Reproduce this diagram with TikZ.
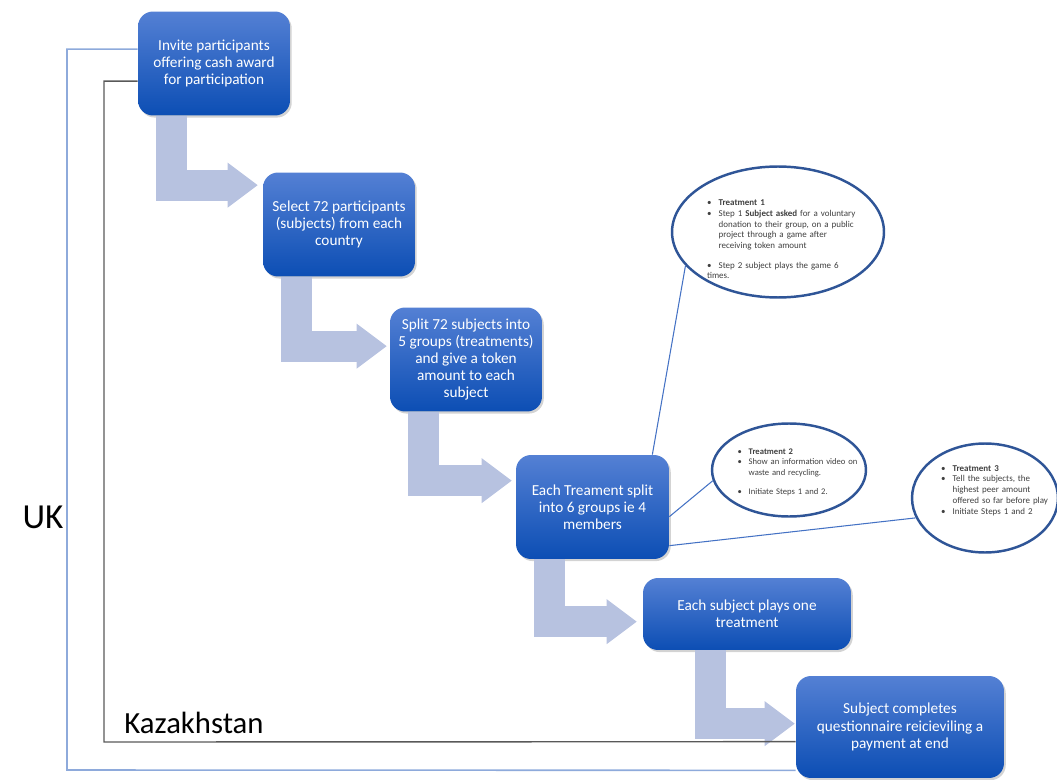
\documentclass[tikz,border=0pt]{standalone}
\usepackage{fontspec}
\setmainfont{Carlito}
\usepackage{xcolor}
\usepackage{tikz}
\usetikzlibrary{shapes.geometric, arrows.meta, positioning, calc, shadows}

\definecolor{boxtop}{RGB}{84,128,212}
\definecolor{boxbottom}{RGB}{12,78,180}
\definecolor{bentgrey}{RGB}{183,194,224}
\definecolor{ukblue}{RGB}{142,170,219}
\definecolor{kzgrey}{RGB}{89,89,89}
\definecolor{bubbleblue}{RGB}{47,85,151}
\definecolor{linkblue}{RGB}{68,114,196}

\newcommand{\bubitem}[1]{\par\hangindent=1.3em\hangafter=1\noindent\makebox[1.3em][l]{\textbullet}#1}

\begin{document}
\begin{tikzpicture}[x=0.02cm, y=-0.02cm,
    stagebox/.style={rectangle, rounded corners=0.3cm, top color=boxtop, bottom color=boxbottom, text=white, align=center, font=\fontsize{8.7}{9.8}\selectfont, minimum width=3.04cm, minimum height=2.08cm, drop shadow={shadow xshift=1pt, shadow yshift=-1.2pt, opacity=0.35}},
    bentarrow/.style={draw=bentgrey, line width=0.62cm, -{Triangle[width=0.9cm, length=0.6cm, line width=0pt]}},
    bubble/.style={ellipse, draw=bubbleblue, line width=1.4pt, fill=white, inner sep=0pt},
    bubbletext/.style={text=black!75, align=left, font=\fontsize{5.1}{6.1}\selectfont, inner sep=0pt},
    link/.style={draw=linkblue, line width=0.6pt}]
    \useasboundingbox (0,0) rectangle (1057,780);

    % Steps down the staircase
    \node[stagebox] (Invite) at (214,63.5) {Invite participants\\offering cash award\\for participation};
    \node[stagebox] (Select) at (339,224.5) {Select 72 participants\\(subjects) from each\\country};
    \node[stagebox] (Split) at (466,359.5) {Split 72 subjects into\\5 groups (treatments)\\and give a token\\amount to each\\subject};
    \node[stagebox, minimum width=3.06cm] (Members) at (592.5,507) {Each Treament split\\into 6 groups ie 4\\members};
    \node[stagebox, minimum width=4.16cm, minimum height=1.44cm] (Plays) at (747,614) {Each subject plays one\\treatment};
    \node[stagebox, minimum width=4.16cm, minimum height=2.04cm] (Complete) at (900,727) {Subject completes\\questionnaire reicieviling a\\payment at end};

    \draw[bentarrow] ($(Invite.south west)+(34,0)$) |- ($(Select.north west)+(-5,13)$);
    \draw[bentarrow] ($(Select.south west)+(34,0)$) |- ($(Split.north west)+(-3,39)$);
    \draw[bentarrow] ($(Split.south west)+(34,0)$) |- ($(Members.north west)+(-4,26)$);
    \draw[bentarrow] ($(Members.south west)+(34,0)$) |- ($(Plays.north west)+(-6,44)$);
    \draw[bentarrow] ($(Plays.south west)+(68,0)$) |- ($(Complete.north west)+(-1,48)$);

    % Country brackets
    \coordinate (UKCorner) at (67,770);
    \coordinate (KzCorner) at (104,742);
    \draw[ukblue, line width=0.9pt] ($(Invite.north west)+(0,38)$) -| (UKCorner) -- ($(Complete.south west)+(0,-8)$);
    \draw[kzgrey, line width=0.8pt] ($(Invite.north west)+(0,70)$) -| (KzCorner) -- ($(Complete.north west)+(0,66)$);
    \node[font=\fontsize{20}{24}\selectfont] (UKLabel) at (43,517) {UK};
    \node[font=\fontsize{17.5}{21}\selectfont] (KzLabel) at (194,723) {Kazakhstan};

    % Treatment bubbles
    \node[bubble, minimum width=4.24cm, minimum height=2.62cm] (TreatOne) at (778,232) {};
    \node[bubbletext, text width=3.3cm] (TreatOneText) at ([xshift=0.23cm, yshift=-0.1cm]TreatOne.center) {\bubitem{\textbf{Treatment 1}}\bubitem{Step 1 \textbf{Subject asked} for a voluntary\newline donation to their group, on a public\newline project through a game after\newline receiving token amount}\par\vspace{5pt}\bubitem{Step 2 subject plays the game 6\newline times.}};
    \node[bubble, minimum width=3.08cm, minimum height=1.86cm] (TreatTwo) at (789,470) {};
    \node[bubbletext, text width=2.7cm, font=\fontsize{4.9}{6}\selectfont] (TreatTwoText) at ([xshift=0.32cm]TreatTwo.center) {\bubitem{\textbf{Treatment 2}}\bubitem{Show an information video on\newline waste and recycling.}\par\vspace{5pt}\bubitem{Initiate Steps 1 and 2.}};
    \node[bubble, minimum width=2.92cm, minimum height=2.18cm] (TreatThree) at (985,498) {};
    \node[bubbletext, text width=2.3cm] (TreatThreeText) at ([xshift=0.27cm, yshift=0.2cm]TreatThree.center) {\bubitem{\textbf{Treatment 3}}\bubitem{Tell the subjects, the\newline highest peer amount\newline offered so far before play}\bubitem{Initiate Steps 1 and 2}};

    \draw[link] (TreatOne.200) -- ($(Members.north east)+(-17,0)$);
    \draw[link] (TreatTwo.188) -- ($(Members.north east)+(0,62)$);
    \draw[link] (TreatThree.196) -- ($(Members.north east)+(0,91)$);
\end{tikzpicture}
\end{document}
